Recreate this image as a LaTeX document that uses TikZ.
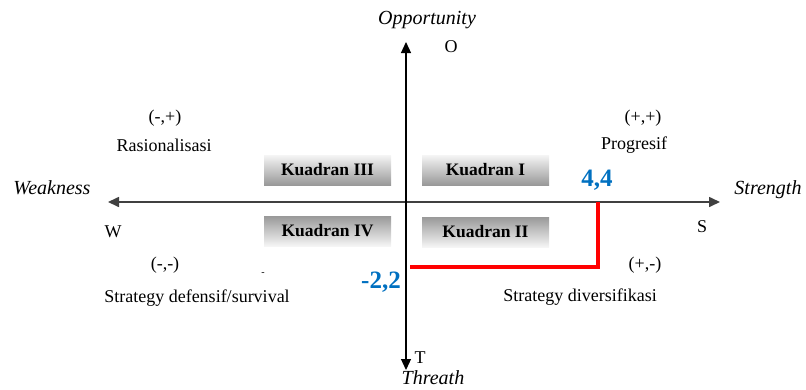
\documentclass[tikz,border=0pt]{standalone}
\usepackage{fontspec}
\setmainfont{Liberation Serif}
\usetikzlibrary{positioning,arrows.meta}

\definecolor{valblue}{RGB}{0,112,192}

\tikzset{
  kbox/.style={minimum width=127pt, minimum height=30pt, inner sep=0pt,
    font=\fontsize{17.5}{19}\selectfont\bfseries},
  kup/.style={kbox, top color=gray!8, bottom color=gray!80},
  kdown/.style={kbox, top color=gray!80, bottom color=gray!8},
  lbl/.style={font=\fontsize{18}{20}\selectfont, inner sep=0pt},
  axlbl/.style={font=\fontsize{20}{22}\selectfont\itshape, inner sep=0pt},
  val/.style={font=\fontsize{25}{27}\selectfont\bfseries, text=valblue, inner sep=0pt},
}

\begin{document}
\begin{tikzpicture}[x=1pt,y=-1pt,>={Triangle[length=11pt,width=10pt]}]
      \useasboundingbox (0,0) rectangle (806,389);

      % axes
      \coordinate (c) at (406,202);
      \coordinate (w) at (108,202);
      \coordinate (s) at (720,202);
      \coordinate (o) at (406,42);
      \coordinate (t) at (406,370);

      \draw[<->, line width=1.6pt, black!75] (w) -- (s);
      \draw[<->, line width=1.2pt] (t) -- (o);

      \node[axlbl] (opp) at (427,20) {Opportunity};
      \node[lbl] (oo) at (451,47) {O};
      \node[lbl] (tt) at (420,358) {T};
      \node[axlbl] (thr) at (433,378) {Threath};
      \node[axlbl] (weak) at (52,188) {Weakness};
      \node[axlbl] (str) at (768,190) {Strength};
      \node[lbl] (ww) at (113,232) {W};
      \node[lbl] (ss) at (702,227) {S};

      % quadrant boxes
      \node[kup] (k3) at (327.5,170) {Kuadran III};
      \node[kup] (k1) at (485.5,170) {Kuadran I};
      \node[kdown] (k4) at (327.5,231) {Kuadran IV};
      \node[kdown] (k2) at (485.5,232) {Kuadran II};

      % quadrant labels
      \node[lbl] (q3) at (165,118) {(-,+)};
      \node[lbl] (rasio) at (164,145) {Rasionalisasi};
      \node[lbl] (q1) at (643,118) {(+,+)};
      \node[lbl] (prog) at (634,145) {Progresif};
      \node[lbl] (q4) at (165,265) {(-,-)};
      \node[lbl] (def) at (197,298) {Strategy defensif/survival};
      \node[lbl] (q2) at (645,265) {(+,-)};
      \node[lbl] (div) at (580,297) {Strategy diversifikasi};
      \node[font=\fontsize{10}{10}\selectfont, inner sep=0pt] (dash) at (263,274) {-};

      % position
      \coordinate (p44) at (598,202);
      \coordinate (p22) at (410,267);
      \draw[red, line width=4pt] (p44) |- (p22);
      \node[val] (v44) at (597,180) {4,4};
      \node[val] (v22) at (381,282) {-2,2};
    \end{tikzpicture}
\end{document}
